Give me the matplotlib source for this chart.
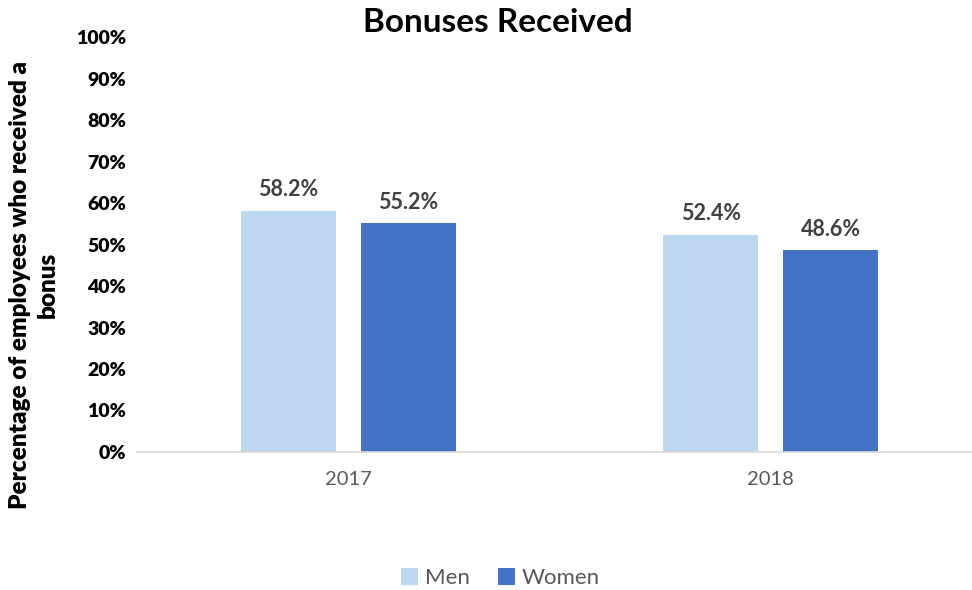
import numpy as np
import matplotlib
matplotlib.use("Agg")
import matplotlib.pyplot as plt
from matplotlib.ticker import PercentFormatter

years = ["2017", "2018"]
men = [58.2, 52.4]
women = [55.2, 48.6]

plt.rcParams['font.family'] = ['Lato', 'DejaVu Sans']

fig = plt.figure(figsize=(9.72, 5.90), dpi=100)
ax = fig.add_axes([0.141, 0.234, 0.869, 0.703])

x = np.arange(len(years))
w = 0.225
b1 = ax.bar(x - 0.142, men, w, color='#BDD7EE', label='Men')
b2 = ax.bar(x + 0.142, women, w, color='#4472C4', label='Women')

for bars in (b1, b2):
    for r in bars:
        ax.text(r.get_x() + r.get_width() / 2, r.get_height() + 2.5,
                '%.1f%%' % r.get_height(), ha='center', va='bottom',
                fontsize=15.5, fontweight='bold', color='#404040')

ax.set_xlim(-0.5, 1.5)
ax.set_ylim(0, 100)
ax.set_yticks(np.arange(0, 101, 10))
ax.yaxis.set_major_formatter(PercentFormatter(decimals=0))
ax.set_xticks(x)
ax.set_xticklabels(years)
for lbl in ax.get_yticklabels():
    lbl.set_fontweight('heavy')
ax.tick_params(axis='y', length=0, labelsize=14, labelcolor='black', pad=8)
ax.tick_params(axis='x', length=0, labelsize=14.5, labelcolor='#595959', pad=14)

for s in ['top', 'right', 'left']:
    ax.spines[s].set_visible(False)
ax.spines['bottom'].set_color('#D9D9D9')
ax.spines['bottom'].set_linewidth(1.2)

fig.text(0.512, 0.962, 'Bonuses Received', ha='center', va='center',
         fontsize=24, fontweight='bold')
fig.text(0.035, 0.517, 'Percentage of employees who received a\nbonus',
         rotation=90, ha='center', va='center', fontsize=17.5,
         fontweight='heavy', linespacing=1.35)

fig.legend(loc='center', bbox_to_anchor=(0.515, 0.02), ncol=2, frameon=False,
           fontsize=16, labelcolor='#595959', handlelength=0.75,
           handleheight=0.75, handletextpad=0.3, columnspacing=1.3)

fig.savefig('out.png', dpi=100)
